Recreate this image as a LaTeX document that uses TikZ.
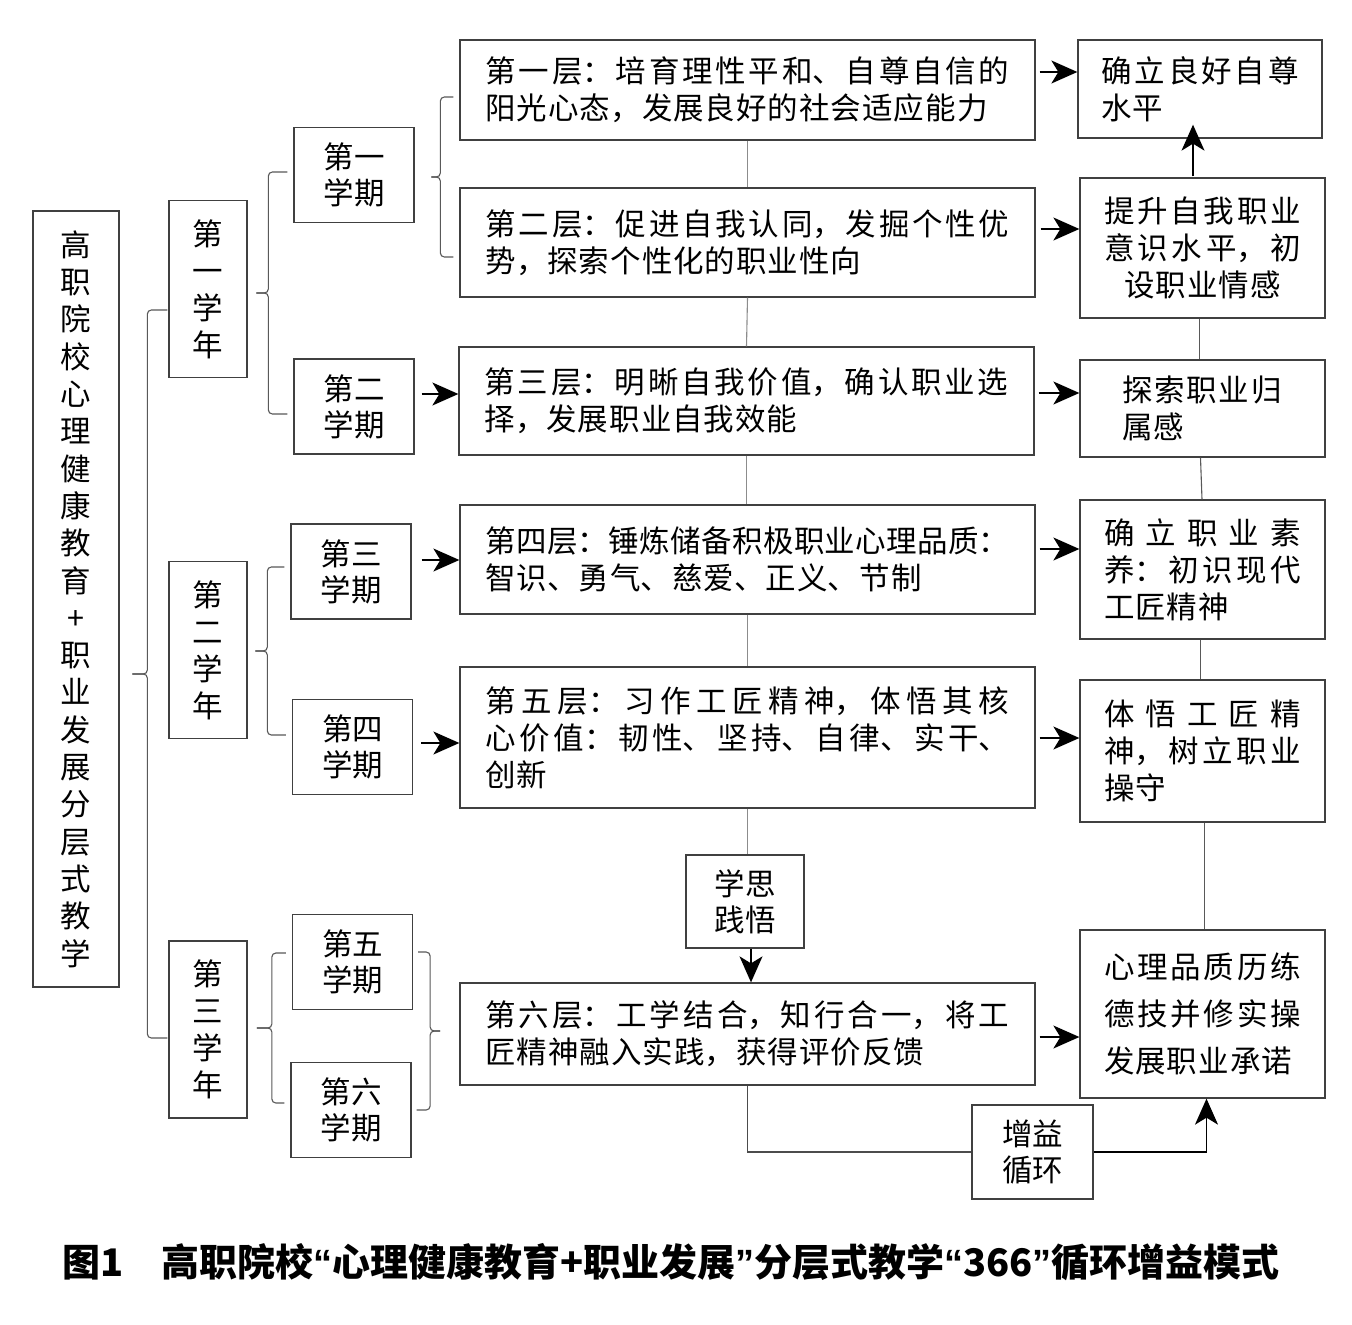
\documentclass[tikz,border=0pt]{standalone}
\usepackage{fontspec}
\setmainfont{Noto Sans CJK SC}
\newfontfamily\qf{Liberation Sans}
\usetikzlibrary{arrows.meta,calc}
\XeTeXlinebreaklocale "zh"
\XeTeXlinebreakskip=1pt plus 40pt minus 1pt
\setlength\parindent{0pt}
\newcommand\txtf{\fontsize{30.5}{37}\selectfont}
\newcommand\txtw{\fontsize{30.5}{47}\selectfont}
\newcommand\txts{\fontsize{30.5}{36}\selectfont}
\newcommand\txtm{\fontsize{30.5}{37.3}\selectfont}
\newcommand\capf{\fontsize{38}{42}\selectfont\bfseries}
\newcommand\ql{{\qf “}}
\newcommand\qr{{\qf ”}}
% left brace: top end, bottom end, gap, arm, tip
\newcommand\brcL[5]{%
  \path (#1) ++(-#3,0) coordinate (bA) ++(-#4,0) coordinate (bAv);
  \path (#2) ++(-#3,0) coordinate (bB);
  \coordinate (bBv) at (bAv |- bB);
  \coordinate (bM) at ($(bAv)!0.5!(bBv)$);
  \draw[brc] (bA) -- (bAv) -- (bM) -- ++(-#5,0);
  \draw[brc] (bB) -- (bBv) -- (bM) -- ++(-#5,0);
}
\newcommand\brcR[5]{%
  \path (#1) ++(#3,0) coordinate (bA) ++(#4,0) coordinate (bAv);
  \path (#2) ++(#3,0) coordinate (bB);
  \coordinate (bBv) at (bAv |- bB);
  \coordinate (bM) at ($(bAv)!0.5!(bBv)$);
  \draw[brc] (bA) -- (bAv) -- (bM) -- ++(#5,0);
  \draw[brc] (bB) -- (bBv) -- (bM) -- ++(#5,0);
}
\begin{document}
\begin{tikzpicture}[x=1pt,y=-1pt,
  box/.style={draw=black!75, line width=1.3pt, inner sep=0pt, font=\txtf},
  layer/.style={box, minimum width=575pt, text width=524pt, align=justify},
  rbox/.style={box, minimum width=245pt, text width=197pt, align=justify},
  sem/.style={box, minimum width=120pt, minimum height=95pt, align=center, font=\txts},
  year/.style={box, minimum width=78pt, minimum height=177pt, align=center},
  arr/.style={-{Stealth[length=26pt,width=23pt,inset=7pt]}, line width=1.3pt, black},
  conn/.style={line width=1.1pt, black!45},
  rconn/.style={line width=1.1pt, black!65},
  loopl/.style={line width=1.2pt, black!70},
  brc/.style={line width=1.1pt, black!65, rounded corners=4pt}]
\useasboundingbox (0,0) rectangle (1352,1325);
\fill[white] (0,0) rectangle (1352,1325);

% main box
\node[box, minimum width=86pt, minimum height=776pt, align=center, font=\txtm] (M) at (76,599) {高\\职\\院\\校\\心\\理\\健\\康\\教\\育\\+\\职\\业\\发\\展\\分\\层\\式\\教\\学};

% years
\node[year] (Y1) at (208,289) {第\\一\\学\\年};
\node[year] (Y2) at (208,650) {第\\二\\学\\年};
\node[year] (Y3) at (208,1029.5) {第\\三\\学\\年};

% semesters
\node[sem] (S1) at (354,175) {第一\\学期};
\node[sem] (S2) at (354,406.5) {第二\\学期};
\node[sem] (S3) at (351,571.5) {第三\\学期};
\node[sem] (S4) at (352.5,747) {第四\\学期};
\node[sem] (S5) at (352.5,962) {第五\\学期};
\node[sem] (S6) at (351,1110) {第六\\学期};

% layers
\node[layer, minimum height=100pt] (L1) at (747.5,90) {\parfillskip=0pt 第一层：培育理性平和、自尊自信的\linebreak 阳光心态，发展良好的社会适应能力};
\node[layer, minimum height=109pt] (L2) at (747.5,242.5) {第二层：促进自我认同，发掘个性优\linebreak 势，探索个性化的职业性向};
\node[layer, minimum height=108pt] (L3) at (746.5,401) {第三层：明晰自我价值，确认职业选\linebreak 择，发展职业自我效能};
\node[layer, minimum height=109pt] (L4) at (747.5,559.5) {第四层：锤炼储备积极职业心理品质：\linebreak 智识、勇气、慈爱、正义、节制};
\node[layer, minimum height=141pt] (L5) at (747.5,737.5) {第五层：习作工匠精神，体悟其核\linebreak 心价值：韧性、坚持、自律、实干、\linebreak 创新};
\node[layer, minimum height=102pt] (L6) at (747.5,1034) {第六层：工学结合，知行合一，将工\linebreak 匠精神融入实践，获得评价反馈};

% right boxes
\node[rbox, minimum width=244pt, minimum height=98pt] (R1) at (1200,89) {确立良好自尊\linebreak 水平};
\node[rbox, minimum height=140pt] (R2) at (1202.5,248) {\parfillskip=0pt 提升自我职业\linebreak 意识水平，初\linebreak\hspace*{\fill}设职业情感\hspace*{\fill}\null};
\node[box, minimum width=245pt, minimum height=97pt, text width=160pt, align=left] (R3) at (1202.5,408.5) {探索职业归\linebreak 属感};
\node[rbox, minimum height=139pt] (R4) at (1202.5,569.5) {确立职业素\linebreak 养：初识现代\linebreak 工匠精神};
\node[rbox, minimum height=142pt] (R5) at (1202.5,751) {体悟工匠精\linebreak 神，树立职业\linebreak 操守};
\node[rbox, minimum height=168pt, font=\txtw] (R6) at (1202.5,1014) {\parfillskip=0pt 心理品质历练\linebreak 德技并修实操\linebreak 发展职业承诺};

% small boxes
\node[box, minimum width=118pt, minimum height=93pt, align=center, font=\txts] (T) at (745,901.5) {学思\\践悟};
\node[box, minimum width=121pt, minimum height=94pt, align=center, font=\txts] (G) at (1032.5,1152) {增益\\循环};

% caption
\node[font=\capf, inner sep=0pt, anchor=west] (cap) at (62,1262) {图1\hspace{38pt}高职院校\ql 心理健康教育+职业发展\qr 分层式教学\ql 366\qr 循环增益模式};

% braces
\brcL{[yshift=-21pt]Y1.west}{[yshift=-8.5pt]Y3.west}{1pt}{20pt}{15pt}
\brcL{[yshift=3pt]S1.west}{[yshift=-7.5pt]S2.west}{6pt}{19pt}{12pt}
\brcL{[yshift=4.5pt]S3.west}{[yshift=12pt]S4.west}{6pt}{17pt}{12pt}
\brcL{[yshift=9pt]S5.west}{[yshift=7pt]S6.west}{6pt}{14pt}{15pt}
\brcR{[yshift=10pt]S5.east}{[yshift=0pt]S6.east}{5pt}{12pt}{10pt}
\brcL{[yshift=-7pt]L1.west}{[yshift=-14.5pt]L2.west}{6pt}{13pt}{9pt}

% centre column
\draw[conn] (L1.south) -- (L2.north);
\draw[conn] (L2.south) -- (L3.south |- L3.north);
\draw[conn] (L3.south) -- (L3.south |- L4.north);
\draw[conn] (L4.south) -- (L5.north);
\draw[conn] (L5.south) -- (L5.south |- T.north);
\draw[arr] ([xshift=6pt]T.south) -- ([xshift=6pt]T.south |- L6.north);

% loop
\draw[loopl] (L6.south) |- (G.west);
\draw[arr] (G.east) -| ([xshift=4pt]R6.south);

% right column
\draw[arr, shorten <=1pt, shorten >=-14pt] ([xshift=-9.5pt]R2.north) -- ([xshift=-9.5pt]R2.north |- R1.south);
\draw[rconn] ([xshift=-3pt]R2.south) -- ([xshift=-3pt]R3.north);
\draw[rconn] ([xshift=-2pt]R3.south) -- ([xshift=-0.5pt]R4.north);
\draw[rconn] ([xshift=-2pt]R4.south) -- ([xshift=-2pt]R5.north);
\draw[rconn] ([xshift=2pt]R5.south) -- ([xshift=2pt]R6.north);

% horizontal arrows
\draw[arr, shorten <=4pt] ([yshift=18pt]L1.east) -- ([yshift=18pt]L1.east -| R1.west);
\draw[arr, shorten <=5pt] ([yshift=13.5pt]L2.east) -- ([yshift=13.5pt]L2.east -| R2.west);
\draw[arr, shorten <=4pt] ([yshift=8pt]L3.east) -- ([yshift=8pt]L3.east -| R3.west);
\draw[arr, shorten <=4pt] ([yshift=10.5pt]L4.east) -- ([yshift=10.5pt]L4.east -| R4.west);
\draw[arr, shorten <=4pt] ([yshift=-0.5pt]L5.east) -- ([yshift=-0.5pt]L5.east -| R5.west);
\draw[arr, shorten <=4pt] ([yshift=-3pt]L6.east) -- ([yshift=-3pt]L6.east -| R6.west);
\draw[arr, shorten <=7pt] ([yshift=12.5pt]S2.east) -- ([yshift=12.5pt]S2.east -| L3.west);
\draw[arr, shorten <=10pt] ([yshift=11.5pt]S3.east) -- ([yshift=11.5pt]S3.east -| L4.west);
\draw[arr, shorten <=8pt] ([yshift=4pt]S4.east) -- ([yshift=4pt]S4.east -| L5.west);
\end{tikzpicture}
\end{document}
